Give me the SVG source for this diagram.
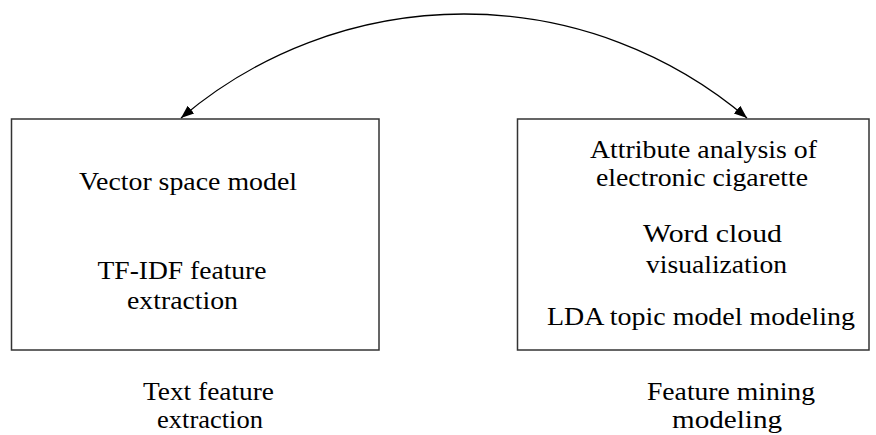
<svg xmlns="http://www.w3.org/2000/svg" width="876" height="435" viewBox="0 0 876 435">
<style>
.box{fill:#fff;stroke:#333;stroke-width:1.5}
.t{font-family:"Liberation Serif","Times New Roman",serif;font-size:25px;fill:#000}
.conn{fill:none;stroke:#000;stroke-width:1.3}
</style>
<defs>
<marker id="ah" markerUnits="userSpaceOnUse" markerWidth="14" markerHeight="12" refX="13" refY="5" orient="auto-start-reverse">
<path d="M0,0 L13,5 L0,10 z" fill="#000"/>
</marker>
</defs>
<rect width="876" height="435" fill="#fff"/>
<g id="node-left">
<rect class="box" x="11.5" y="119" width="367.5" height="231"/>
<text class="t" x="79" y="190" textLength="218" lengthAdjust="spacingAndGlyphs">Vector space model</text>
<text class="t" x="97.5" y="279" textLength="169" lengthAdjust="spacingAndGlyphs">TF-IDF feature</text>
<text class="t" x="127" y="309" textLength="111" lengthAdjust="spacingAndGlyphs">extraction</text>
</g>
<g id="node-right">
<rect class="box" x="517.5" y="119" width="351.5" height="231"/>
<text class="t" x="590" y="158" textLength="227" lengthAdjust="spacingAndGlyphs">Attribute analysis of</text>
<text class="t" x="596" y="186" textLength="212" lengthAdjust="spacingAndGlyphs">electronic cigarette</text>
<text class="t" x="643" y="242" textLength="139" lengthAdjust="spacingAndGlyphs">Word cloud</text>
<text class="t" x="646" y="273" textLength="141" lengthAdjust="spacingAndGlyphs">visualization</text>
<text class="t" x="547" y="325" textLength="308" lengthAdjust="spacingAndGlyphs">LDA topic model modeling</text>
</g>
<g id="label-left">
<text class="t" x="143" y="400" textLength="131" lengthAdjust="spacingAndGlyphs">Text feature</text>
<text class="t" x="157" y="428" textLength="106" lengthAdjust="spacingAndGlyphs">extraction</text>
</g>
<g id="label-right">
<text class="t" x="647" y="400" textLength="168" lengthAdjust="spacingAndGlyphs">Feature mining</text>
<text class="t" x="672" y="428" textLength="110" lengthAdjust="spacingAndGlyphs">modeling</text>
</g>
<g id="connectors">
<path class="conn" d="M181,118 A437,437 0 0 1 747,118" marker-start="url(#ah)" marker-end="url(#ah)"/>
</g>
</svg>
